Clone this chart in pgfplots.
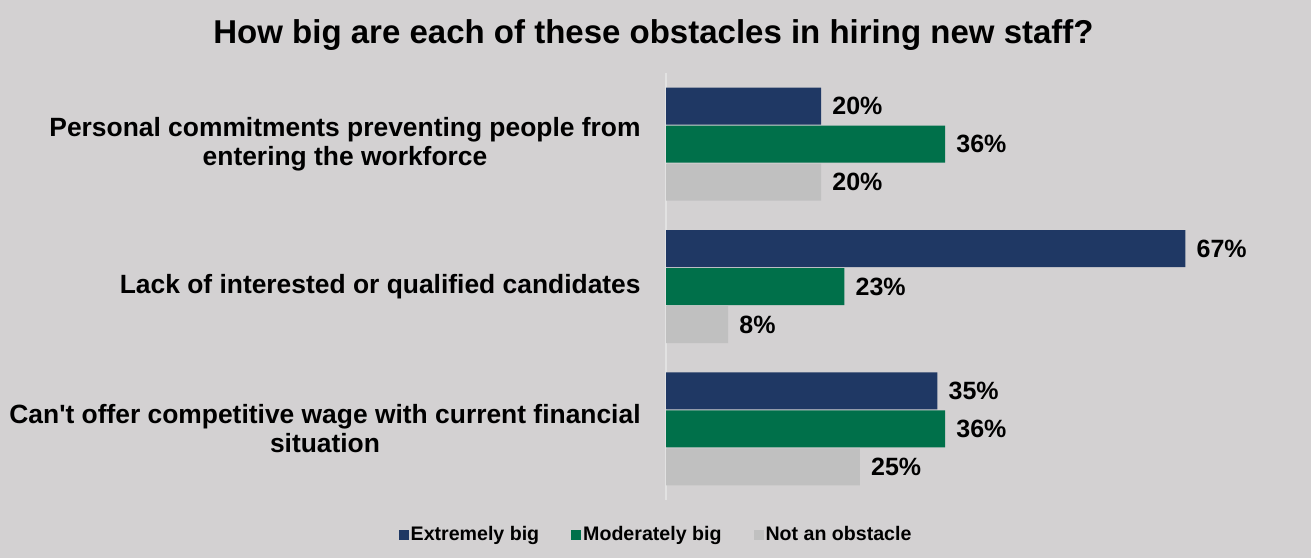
\documentclass[border=0pt]{standalone}
\usepackage{pgfplots}
\pgfplotsset{compat=1.18}
\usepackage{fontspec}
\setmainfont{Liberation Sans}
\definecolor{bg}{HTML}{D3D1D2}
\definecolor{navy}{HTML}{1F3864}
\definecolor{grn}{HTML}{00704A}
\definecolor{lgray}{HTML}{C0C0C0}
\definecolor{axln}{HTML}{E2E2E2}
\begin{document}
\begin{tikzpicture}
\fill[bg] (0pt,0pt) rectangle (655.5pt,279pt);
\useasboundingbox (0pt,0pt) rectangle (655.5pt,279pt);
\begin{axis}[
  at={(333pt,29pt)}, anchor=south west,
  scale only axis, width=310pt, height=213.5pt,
  xbar, bar width=18.5pt,
  xmin=0, xmax=80, ymin=-0.5, ymax=2.5,
  enlargelimits=false,
  axis x line=none, xtick=\empty,
  axis y line*=left,
  y axis line style={draw=axln, line width=0.8pt, -},
  major tick length=0pt,
  ytick={0,1,2},
  yticklabels={{Can\textquotesingle t offer competitive wage with current financial\\situation},
               {Lack of interested or qualified candidates},
               {Personal commitments preventing people from\\entering the workforce}},
  yticklabel style={align=center, inner sep=0pt, xshift=-12.5pt,
     font=\bfseries\fontsize{13.2}{14.3}\selectfont},
  /pgf/number format/assume math mode=true,
  nodes near coords={\pgfmathprintnumber{\pgfplotspointmeta}\%},
  every node near coord/.append style={anchor=west, inner sep=0pt, xshift=5.5pt,
     font=\bfseries\fontsize{12.5}{13}\selectfont, text=black},
  legend style={at={(-0.016,-0.082)}, anchor=center, draw=none, fill=none,
     legend columns=3, font=\bfseries\fontsize{9.8}{11}\selectfont,
     /tikz/every even column/.append style={column sep=15pt},
     nodes={inner sep=1pt}},
  legend image code/.code={\fill[#1,draw=none] (0pt,-2.5pt) rectangle (5pt,2.5pt);},
]
\addplot[fill=navy, draw=none, bar shift=19pt] coordinates {(35,0) (67,1) (20,2)};
\addplot[fill=grn, draw=none, bar shift=0pt] coordinates {(36,0) (23,1) (36,2)};
\addplot[fill=lgray, draw=none, bar shift=-19pt] coordinates {(25,0) (8,1) (20,2)};
\legend{Extremely big, Moderately big, Not an obstacle}
\end{axis}
\node[font=\bfseries\fontsize{16.5}{18}\selectfont] at (326.75pt,261.5pt) {How big are each of these obstacles in hiring new staff?};
\end{tikzpicture}
\end{document}
